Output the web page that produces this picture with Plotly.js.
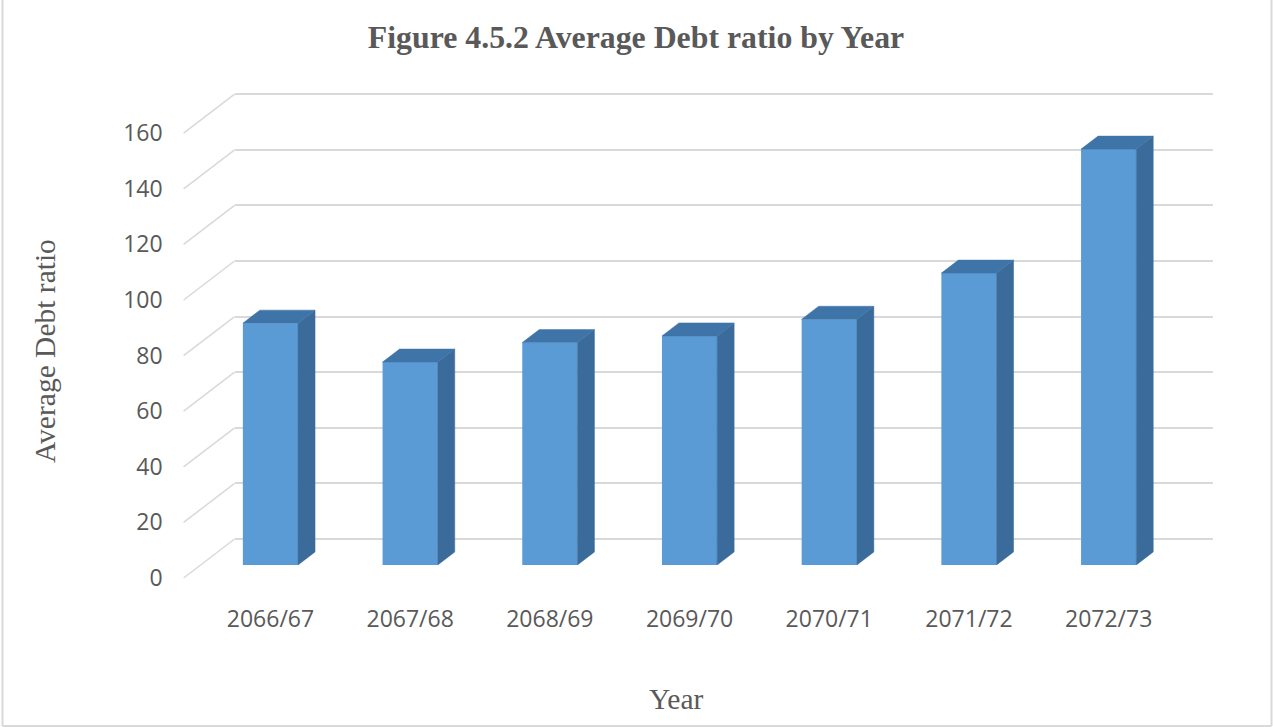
<!DOCTYPE html>
<html>
<head>
<meta charset="utf-8">
<script src="https://cdn.plot.ly/plotly-3.0.1.min.js"></script>
<style>
  html, body { margin: 0; padding: 0; background: #ffffff; }
  #chart { width: 1273px; height: 727px; }
</style>
</head>
<body>
<div id="chart"></div>
<script>
// ---- data ----
const categories = ["2066/67", "2067/68", "2068/69", "2069/70", "2070/71", "2071/72", "2072/73"];
const debtRatio = [87, 73, 80, 82.4, 88.4, 105, 149.6];
const yTicks = [0, 20, 40, 60, 80, 100, 120, 140, 160];
const titleText = "Figure 4.5.2 Average Debt ratio by Year";
const yTitle = "Average Debt ratio";
const xTitle = "Year";

// ---- geometry (pixels) ----
const W = 1273, H = 727;
const mL = 183, mR = 60, mT = 88, mB = 149;
const plotW = W - mL - mR;          // 1030
const plotH = H - mT - mB;          // 490
const catPx = 139.7;                // px per category
const spanPx = catPx * categories.length;
const unitPx = 2.78;                // px per value unit
const yMax = 161;                   // axis top slightly above 160 so the 160 gridline is kept
const fullPx = unitPx * yMax;
const depthX = 17, depthY = 13;     // bar depth in px
const frontX0 = 0.6;                // front plane left offset in plot px
const barW = 0.395;

const dom = (a, b, tot) => [a / tot, b / tot];
// front plane (labels), bars (middle), back wall (grid)
const frontXd = dom(frontX0, frontX0 + spanPx, plotW);
const barXd   = dom(frontX0 + depthX, frontX0 + depthX + spanPx, plotW);
const backXd  = dom(frontX0 + 3 * depthX, Math.min(plotW, frontX0 + 3 * depthX + spanPx), plotW);
const frontYd = dom(0, fullPx, plotH);
const barYd   = dom(depthY, depthY + fullPx, plotH);
const backYd  = dom(3 * depthY, 3 * depthY + fullPx, plotH);

const idx = categories.map((c, i) => i);
const dxData = depthX / catPx;
const dyData = depthY / unitPx;

// side and top faces of the 3D bars, derived from the data
const sideX = [], sideY = [], topX = [], topY = [];
debtRatio.forEach((v, i) => {
  const r = i + barW / 2, l = i - barW / 2;
  sideX.push(r, r + dxData, r + dxData, r, r, null);
  sideY.push(0, dyData, v + dyData, v, 0, null);
  topX.push(l, r, r + dxData, l + dxData, l, null);
  topY.push(v, v, v + dyData, v + dyData, v, null);
});

const txtColor = "#595959";
const gridColor = "#d9d9d9";

const traces = [
  { type: "scatter", x: [], y: [], xaxis: "x", yaxis: "y", showlegend: false, hoverinfo: "skip" },
  {
    type: "bar", x: idx, y: debtRatio, width: barW, xaxis: "x2", yaxis: "y2",
    marker: { color: "#5b9bd5", line: { width: 0 } }, showlegend: false, hoverinfo: "skip"
  },
  {
    type: "scatter", mode: "lines", x: sideX, y: sideY, xaxis: "x2", yaxis: "y2",
    fill: "toself", fillcolor: "#3a6b9b", line: { color: "#3a6b9b", width: 0.5 },
    showlegend: false, hoverinfo: "skip", connectgaps: false
  },
  {
    type: "scatter", mode: "lines", x: topX, y: topY, xaxis: "x2", yaxis: "y2",
    fill: "toself", fillcolor: "#3f74a8", line: { color: "#3f74a8", width: 0.5 },
    showlegend: false, hoverinfo: "skip", connectgaps: false
  },
  { type: "scatter", x: [], y: [], xaxis: "x3", yaxis: "y3", showlegend: false, hoverinfo: "skip" }
];

// pixel -> paper helpers
const pxX = px => (px - mL) / plotW;
const pxY = py => (H - mB - py) / plotH;

// side-wall diagonal lines for each tick
const shapes = yTicks.map(v => ({
  type: "line", xref: "paper", yref: "paper", layer: "below",
  x0: frontXd[0], y0: frontYd[0] + v * unitPx / plotH,
  x1: backXd[0],  y1: backYd[0] + v * unitPx / plotH,
  line: { color: gridColor, width: 1.5 }
}));
// outer chart border (left, right, bottom)
const bcol = "#d9d9d9";
shapes.push(
  { type: "line", xref: "paper", yref: "paper", x0: pxX(2.5), x1: pxX(2.5), y0: pxY(0), y1: pxY(726), line: { color: bcol, width: 2 } },
  { type: "line", xref: "paper", yref: "paper", x0: pxX(1271.5), x1: pxX(1271.5), y0: pxY(0), y1: pxY(726), line: { color: bcol, width: 2 } },
  { type: "line", xref: "paper", yref: "paper", x0: pxX(2.5), x1: pxX(1271.5), y0: pxY(726), y1: pxY(726), line: { color: bcol, width: 2 } }
);

const serif = "Liberation Serif, Times New Roman, serif";
const sans = "Open Sans, sans-serif";

const layout = {
  width: W, height: H,
  margin: { l: mL, r: mR, t: mT, b: mB, pad: 0 },
  paper_bgcolor: "#ffffff",
  plot_bgcolor: "rgba(0,0,0,0)",
  showlegend: false,
  title: {
    text: "<b>" + titleText + "</b>",
    font: { family: serif, size: 31.8, color: txtColor },
    x: 636 / W, xref: "container", xanchor: "center",
    y: 1 - 37 / H, yref: "container", yanchor: "middle"
  },
  // back wall grid
  xaxis: { domain: backXd, anchor: "y", range: [-0.5, 6.5], showgrid: false, zeroline: false, showline: false, showticklabels: false, ticks: "", fixedrange: true },
  yaxis: { domain: backYd, anchor: "x", range: [0, yMax], tickmode: "array", tickvals: yTicks, showgrid: true, gridcolor: gridColor, gridwidth: 2, zeroline: true, zerolinecolor: gridColor, zerolinewidth: 2, showline: false, showticklabels: false, ticks: "", fixedrange: true },
  // bars
  xaxis2: {
    domain: barXd, anchor: "y2", range: [-0.5, 6.5], showgrid: false, zeroline: false, showline: false, ticks: "",
    tickmode: "array", tickvals: idx, ticktext: categories,
    tickfont: { family: sans, size: 23, color: txtColor }, ticklabelstandoff: 38, fixedrange: true
  },
  yaxis2: { domain: barYd, anchor: "x2", range: [0, yMax], showgrid: false, zeroline: false, showline: false, showticklabels: false, ticks: "", fixedrange: true },
  // front plane (y tick labels)
  xaxis3: { domain: frontXd, anchor: "y3", range: [-0.5, 6.5], showgrid: false, zeroline: false, showline: false, showticklabels: false, ticks: "", fixedrange: true },
  yaxis3: {
    domain: frontYd, anchor: "x3", range: [0, yMax], tickmode: "array", tickvals: yTicks, ticktext: yTicks.map(String),
    showgrid: false, zeroline: false, showline: false, ticks: "",
    tickfont: { family: sans, size: 23, color: txtColor }, ticklabelstandoff: 20, fixedrange: true
  },
  annotations: [
    { text: yTitle, xref: "paper", yref: "paper", x: pxX(45), y: pxY(351), xanchor: "center", yanchor: "middle",
      textangle: -90, showarrow: false, font: { family: serif, size: 29.5, color: txtColor } },
    { text: xTitle, xref: "paper", yref: "paper", x: pxX(676.5), y: pxY(699), xanchor: "center", yanchor: "middle",
      showarrow: false, font: { family: serif, size: 29.5, color: txtColor } }
  ],
  shapes: shapes
};

Plotly.newPlot("chart", traces, layout, { displayModeBar: false, staticPlot: true });
</script>
</body>
</html>
